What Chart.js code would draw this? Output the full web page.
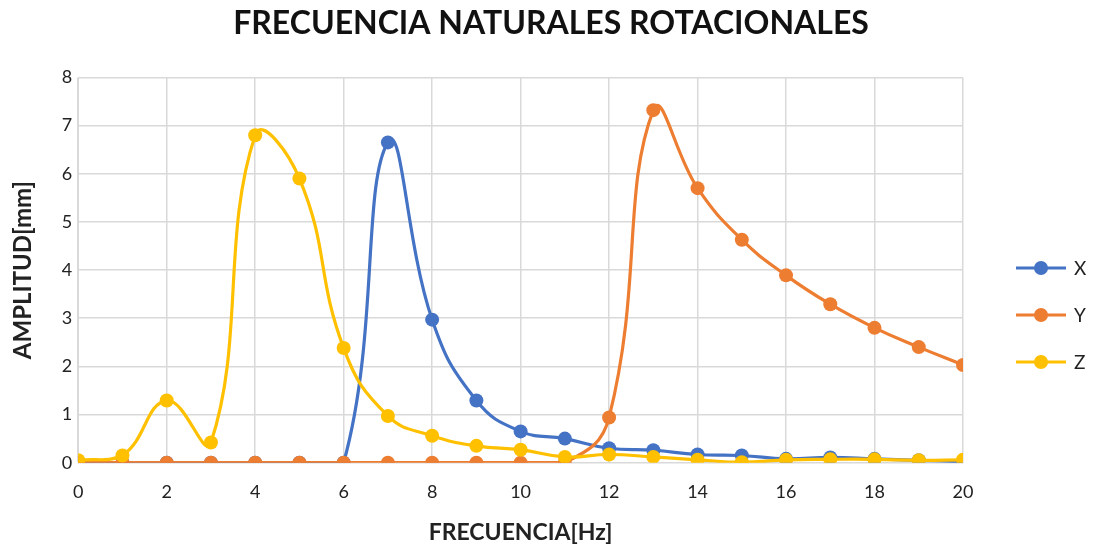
<!DOCTYPE html>
<html>
<head>
<meta charset="utf-8">
<title>Frecuencia naturales rotacionales</title>
<script src="https://cdn.jsdelivr.net/npm/chart.js@4.4.1/dist/chart.umd.min.js"></script>
<style>
    body { margin: 0; background: #ffffff; }
    #wrap { width: 1097px; height: 548px; position: relative; }
</style>
</head>
<body>
<div id="wrap"><canvas id="freqChart"></canvas></div>
<script>
// frequency steps (Hz)
const frecuencias = [0, 1, 2, 3, 4, 5, 6, 7, 8, 9, 10, 11, 12, 13, 14, 15, 16, 17, 18, 19, 20];

// amplitude per axis (mm)
const amplitudX = [0, 0, 0, 0, 0, 0, 0, 6.65, 2.97, 1.29, 0.65, 0.50, 0.30, 0.26, 0.17, 0.15, 0.08, 0.11, 0.08, 0.05, 0.02];
const amplitudY = [0, 0, 0, 0, 0, 0, 0, 0, 0, 0, 0, 0, 0.94, 7.32, 5.70, 4.63, 3.89, 3.29, 2.80, 2.40, 2.03];
const amplitudZ = [0.05, 0.15, 1.29, 0.42, 6.80, 5.90, 2.38, 0.97, 0.56, 0.35, 0.27, 0.12, 0.17, 0.12, 0.06, 0.01, 0.06, 0.07, 0.07, 0.05, 0.06];

const seriesNames = ['X', 'Y', 'Z'];
const seriesColors = ['#4472c4', '#ed7d31', '#ffc000'];

const fontFamily = 'Lato, "Liberation Sans", sans-serif';

function toPoints(values) {
    return frecuencias.map((f, i) => ({ x: f, y: values[i] }));
}

// legend drawn at the right side: line with a dot, then the name
const sideLegend = {
    id: 'sideLegend',
    afterDraw(chart) {
        const ctx = chart.ctx;
        const x0 = 1016, x1 = 1066, firstY = 268, step = 47;
        ctx.save();
        seriesNames.forEach((name, i) => {
            const y = firstY + i * step;
            ctx.strokeStyle = seriesColors[i];
            ctx.lineWidth = 3;
            ctx.beginPath();
            ctx.moveTo(x0, y);
            ctx.lineTo(x1, y);
            ctx.stroke();
            ctx.fillStyle = seriesColors[i];
            ctx.beginPath();
            ctx.arc((x0 + x1) / 2, y, 7, 0, Math.PI * 2);
            ctx.fill();
            ctx.fillStyle = '#222222';
            ctx.font = '19px ' + fontFamily;
            ctx.textBaseline = 'middle';
            ctx.textAlign = 'left';
            ctx.fillText(name, x1 + 8, y + 1);
        });
        ctx.restore();
    }
};

// later series sit on top of earlier ones (Z over Y over X)
const datasets = [amplitudX, amplitudY, amplitudZ].map((vals, i) => ({
    label: seriesNames[i],
    data: toPoints(vals),
    order: 3 - i,
    borderColor: seriesColors[i],
    backgroundColor: seriesColors[i],
    borderWidth: 3.2,
    pointRadius: 7,
    pointHoverRadius: 7,
    pointBorderWidth: 0,
    tension: 0.45
}));

const ctx = document.getElementById('freqChart').getContext('2d');
new Chart(ctx, {
    type: 'line',
    data: { datasets: datasets },
    options: {
        responsive: true,
        maintainAspectRatio: false,
        animation: false,
        layout: { padding: { left: 5, right: 0, top: 4, bottom: 1 } },
        scales: {
            x: {
                type: 'linear',
                min: 0,
                max: 20,
                ticks: {
                    stepSize: 2,
                    color: '#222222',
                    font: { family: fontFamily, size: 18 },
                    padding: 19
                },
                grid: { color: '#d9d9d9', lineWidth: 1.5, drawTicks: false },
                border: { color: '#d9d9d9' },
                title: {
                    display: true,
                    text: 'FRECUENCIA[Hz]',
                    color: '#222222',
                    font: { family: fontFamily, size: 23, weight: 'bold', lineHeight: 0.9 },
                    padding: { top: 0 }
                }
            },
            y: {
                min: 0,
                max: 8,
                ticks: {
                    stepSize: 1,
                    color: '#222222',
                    font: { family: fontFamily, size: 18 },
                    padding: 6
                },
                grid: { color: '#d9d9d9', lineWidth: 1.5, drawTicks: false },
                border: { color: '#d9d9d9' },
                title: {
                    display: true,
                    text: 'AMPLITUD[mm]',
                    color: '#222222',
                    font: { family: fontFamily, size: 24, weight: 'bold' },
                    padding: { bottom: 18 }
                }
            },
            // empty axis that keeps room for the legend on the right
            side: {
                type: 'linear',
                position: 'right',
                display: true,
                grid: { display: false },
                border: { display: false },
                ticks: { display: false },
                afterFit(scale) { scale.width = 134; }
            }
        },
        plugins: {
            legend: { display: false },
            tooltip: { enabled: false },
            title: {
                display: true,
                text: 'FRECUENCIA NATURALES ROTACIONALES',
                color: '#111111',
                font: { family: fontFamily, size: 32, weight: 'bold' },
                padding: { top: 0, bottom: 35 }
            }
        }
    },
    plugins: [sideLegend]
});
</script>
</body>
</html>
